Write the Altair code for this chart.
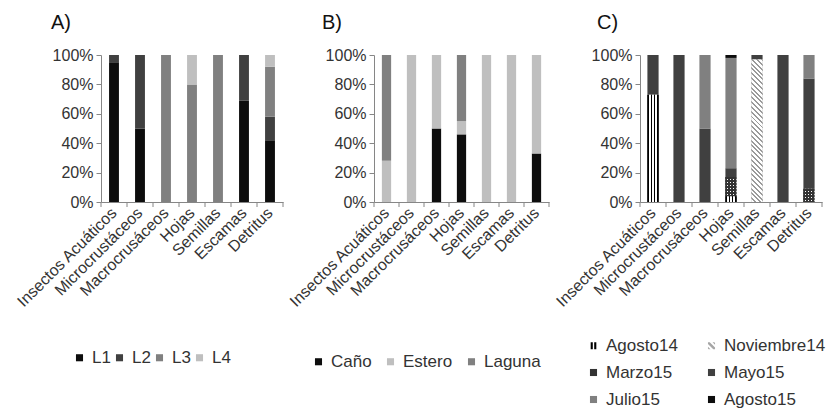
import math
import altair as alt
import pandas as pd

# ---------------- data ----------------
categories = ["Insectos Acuáticos", "Microcrustáceos", "Macrocrusáceos",
              "Hojas", "Semillas", "Escamas", "Detritus"]

# Panel A (percent)
a_series = ["L1", "L2", "L3", "L4"]
a_L1 = [95, 50, 0, 0, 0, 69, 42]
a_L2 = [5, 50, 0, 0, 0, 31, 16]
a_L3 = [0, 0, 100, 80, 100, 0, 34]
a_L4 = [0, 0, 0, 20, 0, 0, 8]

# Panel B (percent)
b_series = ["Caño", "Estero", "Laguna"]
b_cano = [0, 0, 50, 46, 0, 0, 33]
b_estero = [28, 100, 50, 9, 100, 100, 67]
b_laguna = [72, 0, 0, 45, 0, 0, 0]

# Panel C (percent)
c_series = ["Agosto14", "Noviembre14", "Marzo15", "Mayo15", "Julio15", "Agosto15"]
c_ago14 = [73, 0, 0, 4, 0, 0, 0]
c_nov14 = [0, 0, 0, 0, 97, 0, 0]
c_mar15 = [0, 0, 0, 13, 0, 0, 9]
c_may15 = [27, 100, 50, 6, 3, 100, 75]
c_jul15 = [0, 0, 50, 75, 0, 0, 16]
c_ago15 = [0, 0, 0, 2, 0, 0, 0]

y_ticks = [0, 20, 40, 60, 80, 100]

# ---------------- style ----------------
FONT = "Liberation Sans"
AXC = "#868686"
TXT = "#333333"
H = 147
W_A, W_B, W_C = 182, 175, 182
FRAC_A, FRAC_B, FRAC_C = 0.38, 0.37, 0.43


def stack_table(series, columns):
    rows = []
    for i, cat in enumerate(categories):
        base = 0
        for name, vals in zip(series, columns):
            v = vals[i]
            if v > 0:
                rows.append({"cat": cat, "serie": name, "y0": base, "y1": base + v})
                base += v
    return pd.DataFrame(rows)


def x_enc(**kw):
    return alt.X("cat:N", sort=categories, title=None,
                 scale=alt.Scale(paddingInner=0, paddingOuter=0),
                 axis=alt.Axis(labelAngle=-45, labelAlign="right", labelBaseline="middle",
                               ticks=False, labelPadding=8, domainColor=AXC, domainWidth=1,
                               labelFontSize=16, labelFont=FONT, labelColor=TXT, labelLimit=300),
                 **kw)


def y_enc():
    return alt.Y("y0:Q", title=None, scale=alt.Scale(domain=[0, 100], nice=False),
                 axis=alt.Axis(values=y_ticks, labelExpr="datum.value + '%'", grid=False,
                               tickSize=5, tickColor=AXC, domainColor=AXC,
                               labelFontSize=16, labelFont=FONT, labelColor=TXT, labelPadding=3))


def tick_layers():
    t1 = alt.Chart(pd.DataFrame({"cat": categories})).mark_rule(color=AXC).encode(
        x=x_enc(bandPosition=0), y=alt.value(H), y2=alt.value(H + 5))
    t2 = alt.Chart(pd.DataFrame({"cat": categories[-1:]})).mark_rule(color=AXC).encode(
        x=x_enc(bandPosition=1), y=alt.value(H), y2=alt.value(H + 5))
    return [t1, t2]


def legend(x, y, colpad, cols=None, rowpad=0, square=True):
    kw = dict(orient="none", legendX=x, legendY=y, direction="horizontal", title=None,
              symbolSize=50, symbolStrokeWidth=0, labelFontSize=17, labelFont=FONT,
              labelColor=TXT, labelOffset=4, columnPadding=colpad, rowPadding=rowpad, padding=0)
    if cols:
        kw["columns"] = cols
    if square:
        kw["symbolType"] = "square"
    return alt.Legend(**kw)


def title(text, dx):
    return alt.TitleParams(text=text, anchor="start", frame="group", dx=dx, fontSize=20,
                           font=FONT, fontWeight="normal", color="#111111", offset=14)


def stripe_gradient(x1, y1, x2, y2, colors, fracs, cycles):
    stops = []
    t = 0.0
    done = False
    while not done:
        for col, f in zip(colors, fracs):
            end = min(t + f / cycles, 1.0)
            stops.append(alt.GradientStop(color=col, offset=round(t, 5)))
            stops.append(alt.GradientStop(color=col, offset=round(end, 5)))
            t = end
            if t >= 1.0:
                done = True
                break
    return alt.LinearGradient(gradient="linear", x1=x1, y1=y1, x2=x2, y2=y2, stops=stops)


# ---------------- panel A ----------------
dfA = stack_table(a_series, [a_L1, a_L2, a_L3, a_L4])
colA = alt.Scale(domain=a_series, range=["#0d0d0d", "#404040", "#808080", "#bfbfbf"])
barsA = alt.Chart(dfA).mark_bar(width={"band": FRAC_A}).encode(
    x=x_enc(), y=y_enc(), y2="y1:Q",
    color=alt.Color("serie:N", scale=colA, legend=legend(-30, 294, 0)))
pA = alt.layer(barsA, *tick_layers()).properties(width=W_A, height=H, title=title("A)", -50))

# ---------------- panel B ----------------
dfB = stack_table(b_series, [b_cano, b_estero, b_laguna])
colB = alt.Scale(domain=b_series, range=["#0d0d0d", "#bfbfbf", "#808080"])
barsB = alt.Chart(dfB).mark_bar(width={"band": FRAC_B}).encode(
    x=x_enc(), y=y_enc(), y2="y1:Q",
    color=alt.Color("serie:N", scale=colB, legend=legend(-64, 298, 10)))
pB = alt.layer(barsB, *tick_layers()).properties(width=W_B, height=H, title=title("B)", -52))

# ---------------- panel C ----------------
dfC = stack_table(c_series, [c_ago14, c_nov14, c_mar15, c_may15, c_jul15, c_ago15])
colC = alt.Scale(domain=c_series,
                 range=["#000000", "#a6a6a6", "#333333", "#404040", "#808080", "#0d0d0d"])
ago14_path = "M-0.8,-1H-0.2V1H-0.8Z M0.2,-1H0.8V1H0.2Z"
nov14_path = ("M-1,-1L-0.5,-1L1,0.5L1,1L0.5,1L-1,-0.5Z "
              "M0.3,-1L0.8,-1L1,-0.8L1,-0.3Z M-1,0.3L-0.3,1L-0.8,1L-1,0.8Z")
shapeC = alt.Scale(domain=c_series,
                   range=[ago14_path, nov14_path, "square", "square", "square", "square"])

barw_c = FRAC_C * W_C / len(categories)
legC = legend(-55, 282, 25, cols=2, rowpad=9, square=False)

# legend carrier for C (invisible zero-size points), placed first
legend_layer = alt.Chart(dfC).mark_point(filled=True, opacity=1, size=0).encode(
    x=x_enc(), y=y_enc(),
    color=alt.Color("serie:N", scale=colC, legend=legC),
    shape=alt.Shape("serie:N", scale=shapeC, legend=legC))

barsC = alt.Chart(dfC).mark_bar(width={"band": FRAC_C}).encode(
    x=x_enc(), y=y_enc(), y2="y1:Q",
    color=alt.Color("serie:N", scale=colC, legend=legC))

layersC = [legend_layer, barsC]

# Agosto14: vertical black/white stripes
g_ago = stripe_gradient(0, 0, 1, 0, ["#000000", "#ffffff"], [0.6, 0.4], 3.6)
layersC.append(alt.Chart(dfC).transform_filter(alt.datum.serie == "Agosto14").mark_bar(
    width={"band": FRAC_C}, color=g_ago).encode(x=x_enc(), y=y_enc(), y2="y1:Q"))

# Noviembre14: diagonal light stripes
for i, v in enumerate(c_nov14):
    if v <= 0:
        continue
    h = v / 100 * H
    k = 1.08
    r = barw_c / h
    g2 = 1 + r * r
    s = 3.4 * math.sqrt(2)
    cyc = h * k * g2 / s
    g_nov = stripe_gradient(0, 1, k * r, 1 - k, ["#ffffff", "#9a9a9a"], [0.6, 0.4], cyc)
    layersC.append(alt.Chart(dfC).transform_filter(
        (alt.datum.serie == "Noviembre14") & (alt.datum.cat == categories[i])).mark_bar(
        width={"band": FRAC_C}, color=g_nov).encode(x=x_enc(), y=y_enc(), y2="y1:Q"))

# Marzo15: dark dotted pattern (vertical stripes + horizontal overlay)
g_mar_v = stripe_gradient(0, 0, 1, 0, ["#333333", "#ffffff"], [0.65, 0.35], barw_c / 3.0)
layersC.append(alt.Chart(dfC).transform_filter(alt.datum.serie == "Marzo15").mark_bar(
    width={"band": FRAC_C}, color=g_mar_v).encode(x=x_enc(), y=y_enc(), y2="y1:Q"))
for i, v in enumerate(c_mar15):
    if v <= 0:
        continue
    h = v / 100 * H
    g_mar_h = stripe_gradient(0, 0, 0, 1, ["#333333", "rgba(0,0,0,0)"], [0.65, 0.35], h / 3.0)
    layersC.append(alt.Chart(dfC).transform_filter(
        (alt.datum.serie == "Marzo15") & (alt.datum.cat == categories[i])).mark_bar(
        width={"band": FRAC_C}, color=g_mar_h).encode(x=x_enc(), y=y_enc(), y2="y1:Q"))

pC = alt.layer(*layersC, *tick_layers()).properties(width=W_C, height=H, title=title("C)", -43))

chart = alt.hconcat(pA, pB, pC, spacing=91, bounds="flush").resolve_scale(
    color="independent", shape="independent").resolve_legend(
    color="independent", shape="independent").properties(
    padding={"left": 5, "top": 5, "right": 0, "bottom": 0}).configure_view(stroke=None)

chart.save("out.html", embed_options={"renderer": "svg", "actions": False})
